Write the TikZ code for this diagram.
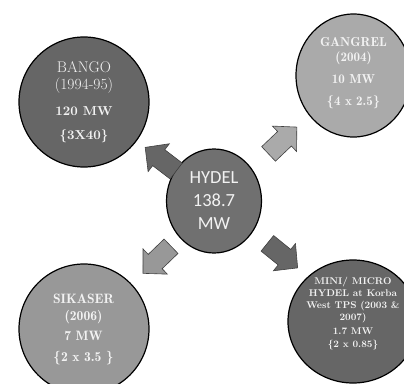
\documentclass[tikz,border=0pt]{standalone}
\usepackage{fontspec}
\newfontfamily\calibfont{Carlito}
\newfontfamily\demifont{lmromandemi10-regular.otf}
\newfontfamily\boldlmfont{lmroman10-bold.otf}
\usetikzlibrary{shapes.geometric}
\definecolor{gdark}{RGB}{102,102,102}
\definecolor{ghydel}{RGB}{112,112,112}
\definecolor{glight}{RGB}{170,170,170}
\definecolor{gmid}{RGB}{152,152,152}
\definecolor{txtw}{RGB}{242,242,242}
\newcommand\blkarrow[4]{%
  \draw[arrowshape, fill=#4, shift={(#1,#2)}, rotate=#3]
    (-19.5,-10) -- (2.5,-10) -- (2.5,-17.5) -- (19.5,0) -- (2.5,17.5) -- (2.5,10) -- (-19.5,10) -- cycle;}
\begin{document}
\begin{tikzpicture}[x=1pt,y=-1pt,
  bubble/.style={ellipse, draw=black, line width=1.2pt, inner sep=0pt},
  btext/.style={align=center, text=txtw, inner sep=0pt},
  arrowshape/.style={draw=black!75, line width=0.6pt, line join=miter}]
\useasboundingbox (0,0) rectangle (404,383);
% circles
\node[bubble, fill=gdark, minimum width=130pt, minimum height=130pt] (bango) at (84,102) {};
\node[bubble, fill=glight, minimum width=115pt, minimum height=123pt] (gangrel) at (353.5,75.5) {};
\node[bubble, fill=gmid, minimum width=130pt, minimum height=130pt] (sikaser) at (84,329) {};
\node[bubble, fill=gdark, minimum width=130pt, minimum height=123pt] (mini) at (353,321.5) {};
\node[bubble, fill=ghydel, minimum width=95pt, minimum height=104pt] (hydel) at (214,201) {};
% arrows
\blkarrow{160.7}{159.2}{142.7}{gdark}
\blkarrow{282.7}{140.5}{43.5}{glight}
\blkarrow{157}{259.8}{224}{gmid}
\blkarrow{282.5}{255.6}{-39}{gdark}
% texts
\node[btext, font=\fontsize{15.5}{17}\selectfont] (bangot) at (84,101.8)
  {BANGO\\(1994-95)\\[9pt]{\boldlmfont\fontsize{13}{15}\selectfont 120 MW}\\[7pt]{\boldlmfont\fontsize{13}{15}\selectfont \{3X40\}}};
\node[btext, font=\demifont\fontsize{13}{15}\selectfont] (gangrelt) at (353.5,73)
  {GANGREL\\(2004)\\[6.6pt]10 MW\\[6.7pt]\{4 x 2.5\}};
\node[btext, font=\demifont\fontsize{13.6}{17}\selectfont] (sikasert) at (83.5,329.3)
  {SIKASER\\(2006)\\[3.7pt]7 MW\\[4pt]\{2 x 3.5 \}};
\node[btext, font=\boldlmfont\fontsize{9.8}{12}\selectfont] (minit) at (353,313.4)
  {MINI/ MICRO\\HYDEL at Korba\\West TPS (2003 \&\\2007)\\[2pt]1.7 MW\\[0.7pt]\{2 x 0.85\}};
\node[btext, font=\calibfont\fontsize{18.5}{23}\selectfont] (hydelt) at (214,201)
  {HYDEL\\138.7\\MW};
\end{tikzpicture}
\end{document}
